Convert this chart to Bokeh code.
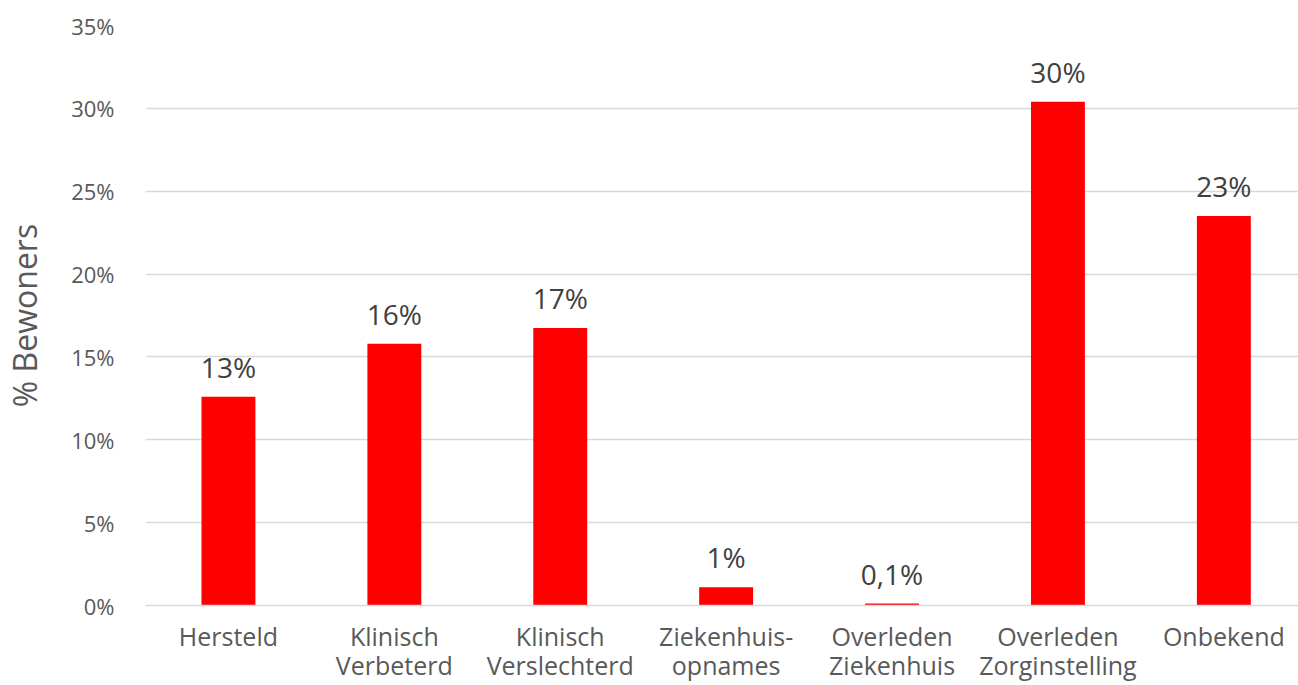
from bokeh.plotting import figure
from bokeh.models import ColumnDataSource, Range1d, FixedTicker
from bokeh.core.properties import value
from bokeh.embed import file_html
from bokeh.resources import INLINE

categories = ["Hersteld", "Klinisch\nVerbeterd", "Klinisch\nVerslechterd", "Ziekenhuis-\nopnames",
              "Overleden\nZiekenhuis", "Overleden\nZorginstelling", "Onbekend"]
values = [12.6, 15.8, 16.75, 1.1, 0.12, 30.4, 23.5]
labels = ["13%", "16%", "17%", "1%", "0,1%", "30%", "23%"]
y_ticks = [0, 5, 10, 15, 20, 25, 30, 35]

FONT = "Open Sans"
xs = list(range(len(categories)))
src = ColumnDataSource(dict(x=xs, top=values, label=labels))

p = figure(width=1298, height=685, output_backend="svg", toolbar_location=None,
           x_range=Range1d(-0.5, 6.45), y_range=Range1d(0, 35),
           min_border_left=143, min_border_right=0, min_border_top=25, min_border_bottom=78)
p.outline_line_color = None
p.background_fill_color = "white"
p.border_fill_color = "white"

p.vbar(x="x", top="top", width=0.325, bottom=0, source=src, fill_color="#ff0000", line_color=None)
p.text(x="x", y="top", text="label", source=src, text_align="center", text_baseline="alphabetic",
       y_offset=-30, text_font=value(FONT), text_font_size="28px", text_color="#404040")

p.xgrid.grid_line_color = None
p.ygrid.grid_line_color = "#d9d9d9"
p.ygrid.grid_line_width = 1.5

p.yaxis.ticker = FixedTicker(ticks=y_ticks)
p.yaxis.major_label_overrides = {t: f"{t}%" for t in y_ticks}
p.yaxis.axis_line_color = None
p.yaxis.major_tick_line_color = None
p.yaxis.minor_tick_line_color = None
p.yaxis.major_label_standoff = 25
p.yaxis.major_label_text_font = FONT
p.yaxis.major_label_text_font_size = "22px"
p.yaxis.major_label_text_color = "#595959"
p.yaxis.axis_label = "% Bewoners"
p.yaxis.axis_label_text_font = FONT
p.yaxis.axis_label_text_font_style = "normal"
p.yaxis.axis_label_text_font_size = "32px"
p.yaxis.axis_label_text_color = "#595959"
p.yaxis.axis_label_standoff = 22

p.xaxis.ticker = FixedTicker(ticks=xs)
p.xaxis.major_label_overrides = {i: c for i, c in enumerate(categories)}
p.xaxis.axis_line_color = "#d9d9d9"
p.xaxis.axis_line_width = 1.5
p.xaxis.major_tick_line_color = None
p.xaxis.minor_tick_line_color = None
p.xaxis.major_label_standoff = 7
p.xaxis.major_label_text_font = FONT
p.xaxis.major_label_text_font_size = "25px"
p.xaxis.major_label_text_color = "#595959"
p.xaxis.major_label_text_line_height = 0.88

open("out.html", "w").write(file_html(p, INLINE))
